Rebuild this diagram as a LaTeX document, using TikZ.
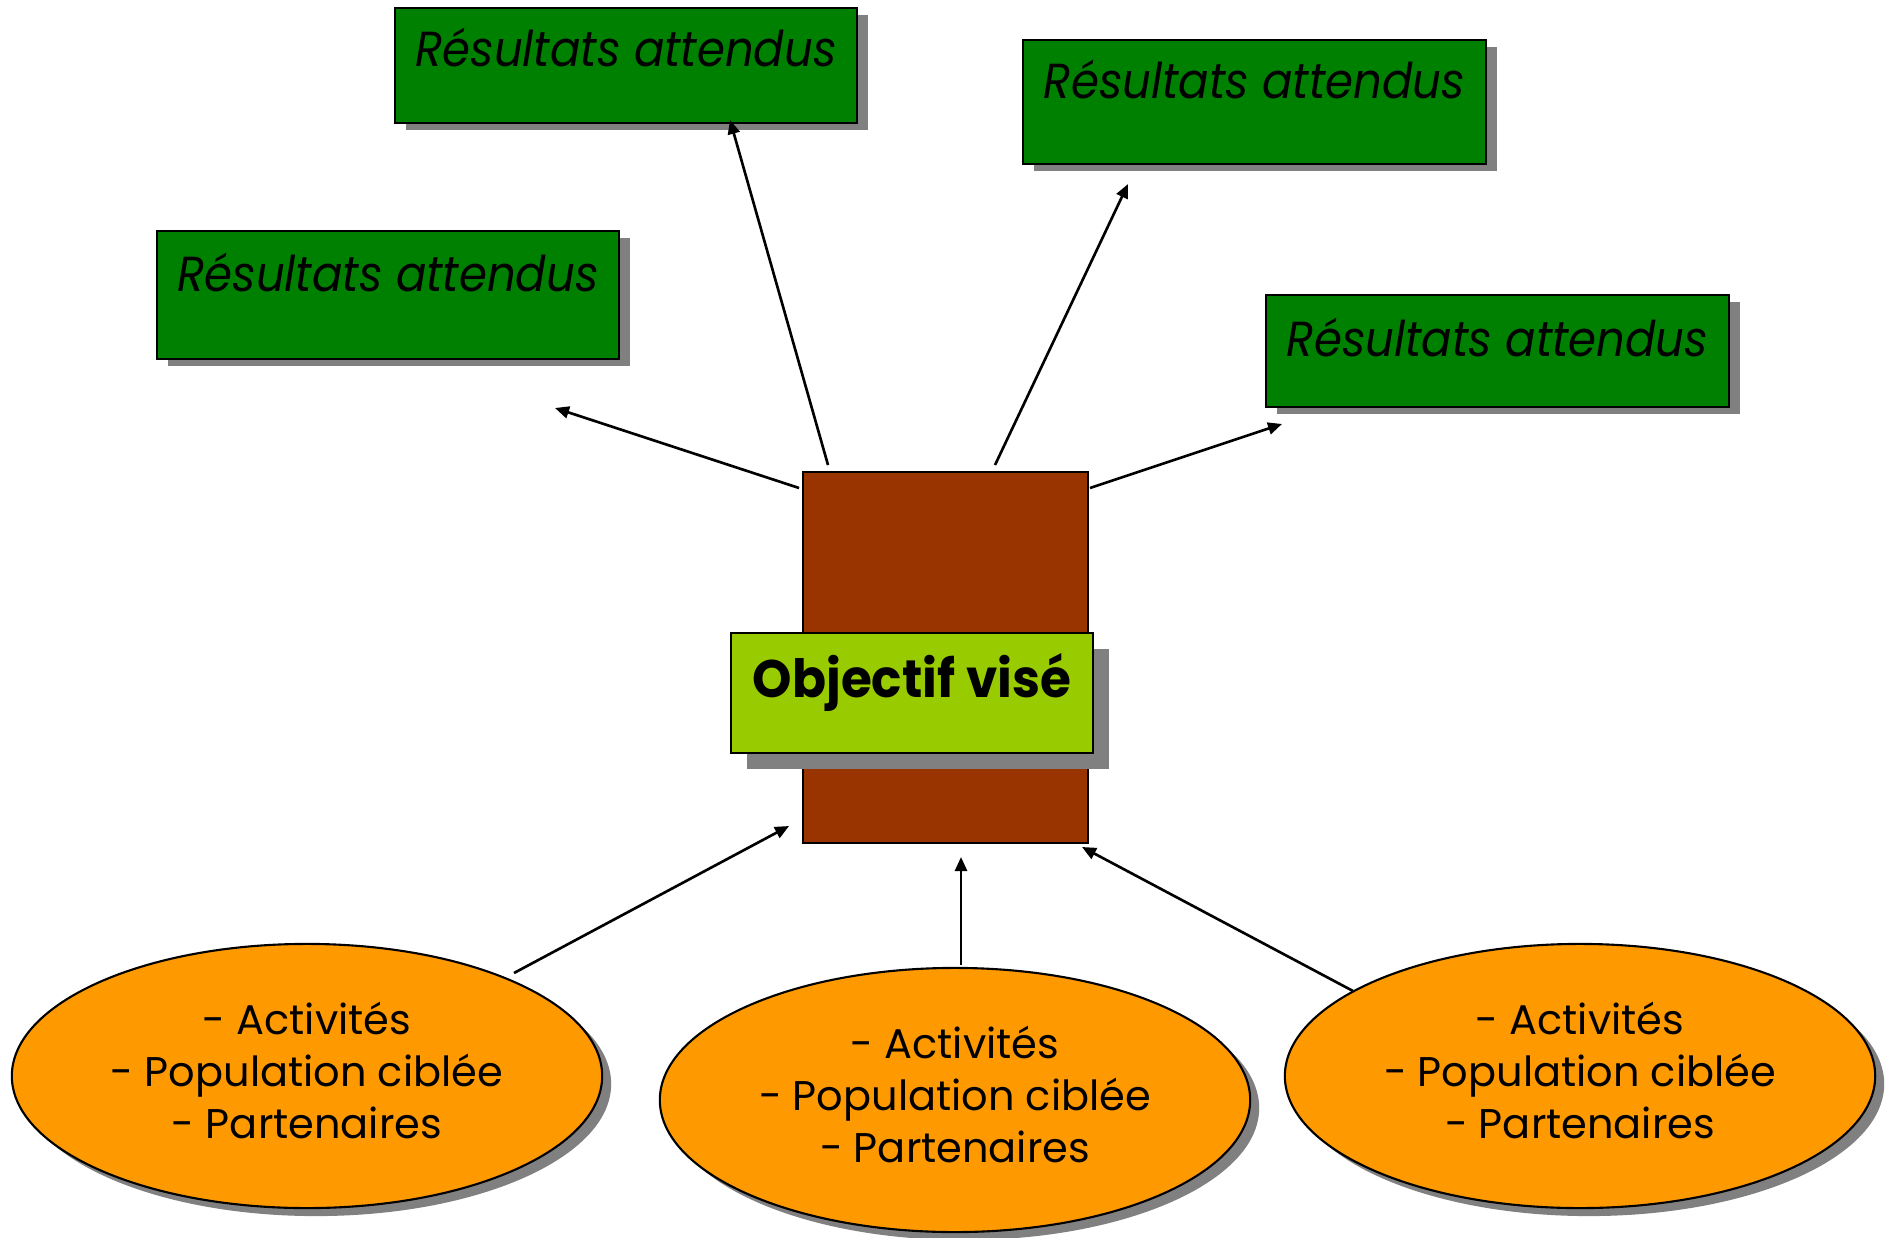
\documentclass[tikz,border=0pt]{standalone}
\usepackage{fontspec}
\usepackage{graphicx}
\setmainfont{Poppins}
\usetikzlibrary{shapes.geometric,shadows,arrows.meta}
\definecolor{resgreen}{HTML}{008000}
\definecolor{brick}{HTML}{993300}
\definecolor{lime}{HTML}{99CC00}
\definecolor{amber}{HTML}{FF9900}
\definecolor{shade}{HTML}{808080}
\newcommand{\restitle}{\scalebox{0.914}[1]{Résultats attendus}}
\newcommand{\actlist}{- Activités\\- Population ciblée\\- Partenaires}
\begin{document}
\begin{tikzpicture}[x=0.01cm,y=-0.01cm,
  resbox/.style={draw=black,line width=0.6pt,fill=resgreen,inner sep=0pt,
    minimum width=46.2mm,
    drop shadow={shadow xshift=1.1mm,shadow yshift=-0.7mm,fill=shade,opacity=1}},
  restext/.style={anchor=base,font=\fontsize{14}{16}\selectfont\itshape,inner sep=0pt},
  actbox/.style={draw=black,line width=0.6pt,fill=amber,ellipse,inner sep=0pt,
    minimum width=59mm,minimum height=26.4mm,
    drop shadow={shadow xshift=0.9mm,shadow yshift=-0.8mm,fill=shade,opacity=1}},
  acttext/.style={align=center,inner sep=0pt,font=\fontsize{11.8}{14.8}\selectfont},
  link/.style={line width=0.75pt,-{Triangle[length=1.4mm,width=1.2mm]}}]
\useasboundingbox (0,0) rectangle (1889,1237);

% expected results
\node[resbox,minimum height=11.5mm] (r1) at (626,65.5) {};
\node[restext] (r1t) at ([yshift=-6mm]r1.north) {\restitle};
\node[resbox,minimum height=12.4mm] (r2) at (1254.5,102) {};
\node[restext] (r2t) at ([yshift=-6mm]r2.north) {\restitle};
\node[resbox,minimum height=12.8mm] (r3) at (388,295) {};
\node[restext] (r3t) at ([yshift=-6.2mm]r3.north) {\restitle};
\node[resbox,minimum height=11.2mm] (r4) at (1497.5,351) {};
\node[restext] (r4t) at ([yshift=-6.3mm]r4.north) {\restitle};

% central objective
\node[draw=black,line width=0.6pt,fill=brick,minimum width=28.5mm,minimum height=37.1mm,inner sep=0pt] (core) at (945.5,657.5) {};
\node[draw=black,line width=0.6pt,fill=lime,minimum width=36.2mm,minimum height=12mm,inner sep=0pt,
  drop shadow={shadow xshift=1.6mm,shadow yshift=-1.6mm,fill=shade,opacity=1}] (goal) at (912,693) {};
\node[anchor=base,inner sep=0pt,font=\fontsize{15}{18}\selectfont\bfseries] (goalt) at (912,697) {\scalebox{0.95}[1]{Objectif visé}};

% activities
\node[actbox] (e1) at (307,1076) {};
\node[acttext] (e1t) at ([yshift=0.6mm]e1.center) {\actlist};
\node[actbox] (e2) at (955,1100) {};
\node[acttext] (e2t) at ([yshift=0.6mm]e2.center) {\actlist};
\node[actbox] (e3) at (1580,1076) {};
\node[acttext] (e3t) at ([yshift=0.6mm]e3.center) {\actlist};

% connector ends
\coordinate (a1s) at (799,488); \coordinate (a1e) at (555,408);
\coordinate (a2s) at (828,465); \coordinate (a2e) at (730,120);
\coordinate (a3s) at (995,465); \coordinate (a3e) at (1128,184);
\coordinate (a4s) at (1090,488); \coordinate (a4e) at (1282,424);
\coordinate (a5s) at (514,973); \coordinate (a5e) at (789,826);
\coordinate (a6s) at (961,965); \coordinate (a6e) at (961,857);
\coordinate (a7s) at (1353,991); \coordinate (a7e) at (1082,847);

\draw[link] (a1s) -- (a1e);
\draw[link] (a2s) -- (a2e);
\draw[link] (a3s) -- (a3e);
\draw[link] (a4s) -- (a4e);
\draw[link] (a5s) -- (a5e);
\draw[link] (a6s) -- (a6e);
\draw[link] (a7s) -- (a7e);
\end{tikzpicture}
\end{document}
